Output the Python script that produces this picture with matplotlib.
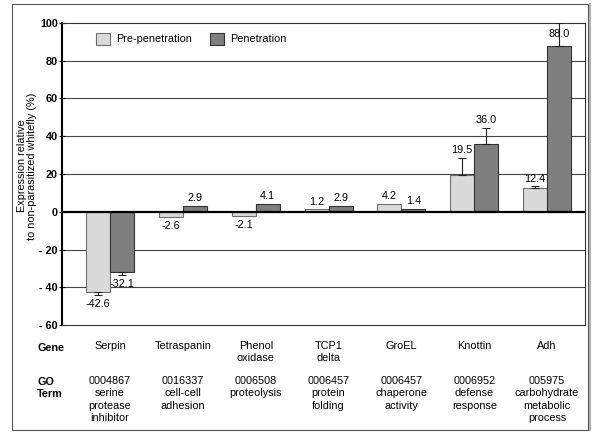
import numpy as np
import matplotlib.pyplot as plt
from matplotlib.patches import Rectangle, Patch
from matplotlib.lines import Line2D
from matplotlib.transforms import blended_transform_factory

plt.rcParams['font.family'] = ['Liberation Sans', 'DejaVu Sans']

# data
genes = ['Serpin', 'Tetraspanin', 'Phenol\noxidase', 'TCP1\ndelta', 'GroEL', 'Knottin', 'Adh']
go_terms = ['0004867\nserine\nprotease\ninhibitor',
            '0016337\ncell-cell\nadhesion',
            '0006508\nproteolysis',
            '0006457\nprotein\nfolding',
            '0006457\nchaperone\nactivity',
            '0006952\ndefense\nresponse',
            '005975\ncarbohydrate\nmetabolic\nprocess']
pre = [-42.6, -2.6, -2.1, 1.2, 4.2, 19.5, 12.4]
pen = [-32.1, 2.9, 4.1, 2.9, 1.4, 36.0, 88.0]
pre_err = [1.5, 0, 0, 0, 0, 9.0, 1.0]
pen_err = [1.3, 0, 0, 0, 0, 8.3, 12.0]
series = ['Pre-penetration', 'Penetration']

fs = 7.8
fig = plt.figure(figsize=(6, 4.34), dpi=100)
ax = fig.add_axes([62/600, 1-325/434, 523/600, 302/434])

x = np.arange(len(genes))
w = 0.33
ymin, ymax = -60, 100

styles = [dict(color='#dadada', edgecolor='#6e6e6e'),
          dict(color='#7f7f7f', edgecolor='#333333')]

for k, (vals, errs) in enumerate([(pre, pre_err), (pen, pen_err)]):
    xs = x + (k - 0.5) * w
    ax.bar(xs, vals, w, linewidth=0.8, zorder=2, **styles[k])
    vals = np.array(vals)
    errs = np.array(errs)
    m = errs > 0
    lo = np.where(vals < 0, errs, 0)[m]
    up = np.where(vals >= 0, errs, 0)[m]
    ax.errorbar(xs[m], vals[m], yerr=[lo, up], fmt='none', ecolor='#222222',
                elinewidth=0.8, capsize=3, capthick=0.8, zorder=3)
    for xi, v, e in zip(xs, vals, errs):
        if v >= 0:
            end = v + e
            off = 2
            if end + 8 > ymax:
                end, off = v, 5
            ax.annotate(f'{v:.1f}', (xi, end), xytext=(0, off), textcoords='offset points',
                        ha='center', va='bottom', fontsize=fs, zorder=4)
        else:
            ax.annotate(f'{v:.1f}', (xi, v - e), xytext=(0, -3), textcoords='offset points',
                        ha='center', va='top', fontsize=fs, zorder=4)

ax.set_ylim(ymin, ymax)
ax.set_xlim(-0.66, 6.52)
ax.set_xticks([])
yt = list(range(ymin, ymax + 1, 20))
ax.set_yticks(yt)
ax.set_yticklabels([f'- {abs(t)}' if t < 0 else str(t) for t in yt],
                   fontsize=fs, fontweight='bold')
ax.tick_params(axis='y', direction='inout', length=4, width=0.8, pad=1)

for t in yt:
    if t not in (0, ymin, ymax):
        ax.axhline(t, color='#444444', lw=0.8, zorder=1)
ax.axhline(0, color='black', lw=1.6, zorder=3)

for s in ['top', 'right', 'bottom']:
    ax.spines[s].set_color('#333333')
    ax.spines[s].set_linewidth(0.8)
ax.spines['left'].set_linewidth(1.5)
ax.spines['left'].set_color('black')

handles = [Patch(facecolor=styles[k]['color'], edgecolor=styles[k]['edgecolor'], lw=0.8)
           for k in range(2)]
ax.legend(handles, series, loc='upper left', bbox_to_anchor=(0.065, 0.967), ncol=2,
          frameon=False, fontsize=fs, borderpad=0, borderaxespad=0,
          handlelength=1.3, handleheight=1.3, handletextpad=0.55, columnspacing=1.65)

# y label
fig.text(27/600, 1-166/434, 'Expression relative\nto non-parasitized whitefly (%)',
         rotation=90, ha='center', va='center', fontsize=fs, linespacing=1.1)

# table below the chart
tr = blended_transform_factory(ax.transData, fig.transFigure)
fig.text(37/600, 1-343/434, 'Gene', ha='left', va='top', fontsize=fs, fontweight='bold')
fig.text(37/600, 1-377/434, 'GO\nTerm', ha='left', va='top', fontsize=fs,
         fontweight='bold', linespacing=1.3)
for xi, g, t in zip(x, genes, go_terms):
    ax.text(xi, 1-341/434, g, transform=tr, ha='center', va='top', fontsize=fs,
            linespacing=1.3, clip_on=False)
    ax.text(xi, 1-376/434, t, transform=tr, ha='center', va='top', fontsize=fs,
            linespacing=1.3, clip_on=False)

# outer frame
fig.patches.append(Rectangle((12/600, 1-430/434), 576/600, 426/434, transform=fig.transFigure,
                             fill=False, edgecolor='#555555', lw=0.8))
fig.lines.append(Line2D([590/600, 590/600], [1-430/434, 1-4/434], transform=fig.transFigure,
                        color='#b0b0b0', lw=1.5))

fig.savefig('out.png', dpi=100)
